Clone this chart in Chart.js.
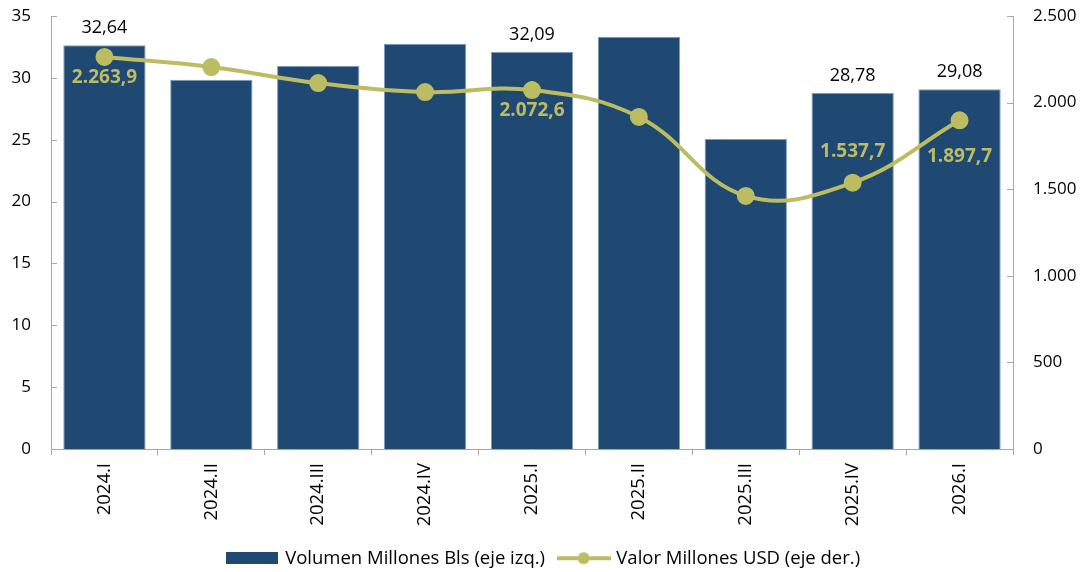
<!DOCTYPE html>
<html>
<head>
<meta charset="utf-8">
<script src="https://cdn.jsdelivr.net/npm/chart.js@4"></script>
<style>
  html, body { margin: 0; padding: 0; background: #fff; }
  #wrap { width: 1085px; height: 572px; }
</style>
</head>
<body>
<div id="wrap"><canvas id="chart"></canvas></div>
<script>
// ---------------- DATA ----------------
const quarters = ["2024.I", "2024.II", "2024.III", "2024.IV", "2025.I", "2025.II", "2025.III", "2025.IV", "2026.I"];
const volumen = [32.64, 29.85, 30.98, 32.76, 32.09, 33.32, 25.05, 28.78, 29.08];
const valor = [2263.9, 2205, 2113, 2061, 2072.6, 1917, 1461, 1537.7, 1897.7];
const leftTicks = [0, 5, 10, 15, 20, 25, 30, 35];
const rightTicks = [0, 500, 1000, 1500, 2000, 2500];

// which points carry a label (and where the line label sits)
const barLabelIdx = [0, 4, 7, 8];
const lineLabelIdx = { 0: "below", 4: "below", 7: "above", 8: "below" };

const BAR_COLOR = "#1F4872";
const LINE_COLOR = "#BCBD63";
const AXIS_COLOR = "#a6a6a6";
const FONT = "'Open Sans', sans-serif";

function fmtDot(v) {
    return String(Math.round(v)).replace(/\B(?=(\d{3})+(?!\d))/g, ".");
}
function fmtValor(v) {
    const parts = v.toFixed(1).split(".");
    return parts[0].replace(/\B(?=(\d{3})+(?!\d))/g, ".") + "," + parts[1];
}

// legend symbols
function makeBarSymbol() {
    const c = document.createElement("canvas");
    c.width = 52; c.height = 12;
    const g = c.getContext("2d");
    g.fillStyle = BAR_COLOR;
    g.fillRect(0, 0, 52, 12);
    return c;
}
function makeLineSymbol() {
    const c = document.createElement("canvas");
    c.width = 54; c.height = 14;
    const g = c.getContext("2d");
    g.strokeStyle = LINE_COLOR;
    g.lineWidth = 4;
    g.beginPath(); g.moveTo(0, 7); g.lineTo(54, 7); g.stroke();
    g.fillStyle = LINE_COLOR;
    g.beginPath(); g.arc(27, 7, 6, 0, Math.PI * 2); g.fill();
    return c;
}

// fixed axis box so the plot area lines up with the reference
function fixAxis(width) {
    return axis => {
        axis.width = width;
        axis.paddingTop = 0;
        axis.paddingBottom = 0;
    };
}

// ---------------- PLUGINS ----------------
// inward tick marks on both value axes
const innerTicks = {
    id: "innerTicks",
    afterDraw(chart) {
        const ctx = chart.ctx;
        ctx.save();
        ctx.strokeStyle = AXIS_COLOR;
        ctx.lineWidth = 1;
        ["y", "y1"].forEach(id => {
            const s = chart.scales[id];
            const x0 = id === "y" ? s.right : s.left;
            const dir = id === "y" ? 1 : -1;
            s.ticks.forEach(t => {
                const py = Math.round(s.getPixelForValue(t.value)) + 0.5;
                ctx.beginPath();
                ctx.moveTo(x0, py);
                ctx.lineTo(x0 + dir * 6, py);
                ctx.stroke();
            });
        });
        ctx.restore();
    }
};

const labelPlugin = {
    id: "pointLabels",
    afterDatasetsDraw(chart) {
        const ctx = chart.ctx;
        ctx.save();
        ctx.textAlign = "center";

        const barMeta = chart.getDatasetMeta(0);
        ctx.font = "18px " + FONT;
        ctx.fillStyle = "#000";
        ctx.textBaseline = "bottom";
        barLabelIdx.forEach(i => {
            const el = barMeta.data[i];
            ctx.fillText(volumen[i].toFixed(2).replace(".", ","), el.x, el.y - 8);
        });

        const lineMeta = chart.getDatasetMeta(1);
        ctx.font = "bold 19px " + FONT;
        ctx.fillStyle = LINE_COLOR;
        ctx.textBaseline = "middle";
        Object.keys(lineLabelIdx).forEach(k => {
            const i = +k;
            const el = lineMeta.data[i];
            const dy = lineLabelIdx[k] === "above" ? -31 : (i === 8 ? 36 : 21);
            ctx.fillText(fmtValor(valor[i]), el.x, el.y + dy);
        });
        ctx.restore();
    }
};

// ---------------- CHART ----------------
const ctx = document.getElementById("chart").getContext("2d");

new Chart(ctx, {
    data: {
        labels: quarters,
        datasets: [
            {
                type: "bar",
                label: "Volumen Millones Bls (eje izq.)",
                data: volumen,
                backgroundColor: BAR_COLOR,
                borderColor: "#7f9bb8",
                borderWidth: { top: 1, left: 1, right: 1, bottom: 0 },
                barPercentage: 0.77,
                categoryPercentage: 1.0,
                yAxisID: "y",
                order: 2
            },
            {
                type: "line",
                label: "Valor Millones USD (eje der.)",
                data: valor,
                borderColor: LINE_COLOR,
                backgroundColor: LINE_COLOR,
                borderWidth: 4,
                pointRadius: 7,
                pointHoverRadius: 7,
                tension: 0.4,
                yAxisID: "y1",
                order: 1
            }
        ]
    },
    options: {
        responsive: true,
        maintainAspectRatio: false,
        animation: false,
        layout: { padding: { top: 16, left: 6, right: 2, bottom: -5.5 } },
        plugins: {
            tooltip: { enabled: false },
            legend: {
                position: "bottom",
                labels: {
                    color: "#000",
                    font: { size: 18.5, family: FONT },
                    usePointStyle: true,
                    pointStyleWidth: 47,
                    padding: 15,
                    generateLabels: function (chart) {
                        return chart.data.datasets.map((ds, i) => ({
                            text: ds.label,
                            pointStyle: i === 0 ? makeBarSymbol() : makeLineSymbol(),
                            fillStyle: "transparent",
                            strokeStyle: "transparent",
                            lineWidth: 0,
                            datasetIndex: i
                        }));
                    }
                }
            }
        },
        scales: {
            x: {
                afterFit: axis => { axis.height = 85; },
                grid: {
                    display: true,
                    drawOnChartArea: false,
                    tickLength: 6,
                    color: AXIS_COLOR
                },
                border: { color: AXIS_COLOR },
                ticks: {
                    color: "#000",
                    font: { size: 18.5, family: FONT },
                    maxRotation: 90,
                    minRotation: 90,
                    padding: 8
                }
            },
            y: {
                position: "left",
                min: 0,
                max: 35,
                afterFit: fixAxis(45),
                afterBuildTicks: axis => { axis.ticks = leftTicks.map(v => ({ value: v })); },
                grid: { display: false, drawTicks: false },
                border: { display: true, color: AXIS_COLOR },
                ticks: {
                    color: "#000",
                    font: { size: 17, family: FONT },
                    padding: 20
                }
            },
            y1: {
                position: "right",
                min: 0,
                max: 2500,
                afterFit: fixAxis(70),
                afterBuildTicks: axis => { axis.ticks = rightTicks.map(v => ({ value: v })); },
                grid: { display: false, drawTicks: false },
                border: { display: true, color: AXIS_COLOR },
                ticks: {
                    color: "#000",
                    font: { size: 17, family: FONT },
                    padding: 20,
                    callback: v => fmtDot(v)
                }
            }
        }
    },
    plugins: [labelPlugin, innerTicks]
});
</script>
</body>
</html>
